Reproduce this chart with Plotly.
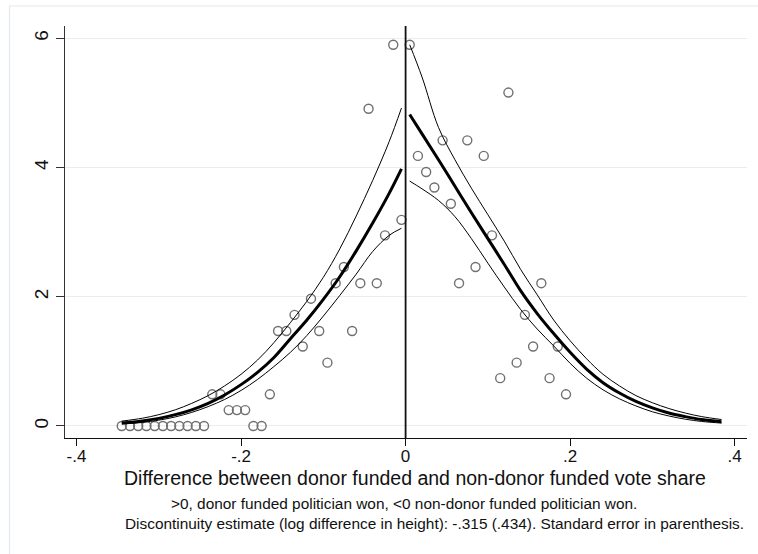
import plotly.graph_objects as go

# ---- binned density (scatter points) ----
bin_x = [-0.345, -0.335, -0.325, -0.315, -0.305, -0.295, -0.285, -0.275, -0.265, -0.255, -0.245,
         -0.235, -0.225, -0.215, -0.205, -0.195, -0.185, -0.175, -0.165, -0.155, -0.145,
         -0.135, -0.125, -0.115, -0.105, -0.095, -0.085, -0.075, -0.065, -0.055, -0.045,
         -0.035, -0.025, -0.015, -0.005,
         0.005, 0.015, 0.025, 0.035, 0.045, 0.055, 0.065, 0.075, 0.085, 0.095,
         0.105, 0.115, 0.125, 0.135, 0.145, 0.155, 0.165, 0.175, 0.185, 0.195]
bin_y = [0, 0, 0, 0, 0, 0, 0, 0, 0, 0, 0,
         0.49, 0.49, 0.246, 0.246, 0.246, 0, 0, 0.49, 1.47, 1.47,
         1.72, 1.23, 1.97, 1.47, 0.98, 2.21, 2.46, 1.47, 2.21, 4.91,
         2.21, 2.95, 5.90, 3.19,
         5.90, 4.18, 3.93, 3.69, 4.42, 3.44, 2.21, 4.42, 2.46, 4.18,
         2.95, 0.74, 5.16, 0.98, 1.72, 1.23, 2.21, 0.74, 1.23, 0.49]

# ---- fitted density, left of cutoff ----
left_x = [-0.345, -0.32, -0.30, -0.28, -0.26, -0.24, -0.22, -0.20, -0.18, -0.16,
          -0.14, -0.12, -0.10, -0.08, -0.06, -0.04, -0.02, -0.005]
left_fit = [0.045, 0.078, 0.118, 0.175, 0.25, 0.35, 0.48, 0.64, 0.83, 1.06,
            1.35, 1.64, 1.96, 2.31, 2.71, 3.14, 3.60, 3.98]
left_hi = [0.075, 0.12, 0.175, 0.25, 0.35, 0.47, 0.62, 0.80, 1.02, 1.29,
           1.60, 1.93, 2.30, 2.74, 3.25, 3.80, 4.40, 4.92]
left_lo = [0.03, 0.055, 0.09, 0.14, 0.21, 0.30, 0.41, 0.55, 0.72, 0.92,
           1.14, 1.40, 1.70, 2.02, 2.35, 2.70, 2.95, 3.06]

# ---- fitted density, right of cutoff ----
right_x = [0.005, 0.02, 0.04, 0.06, 0.08, 0.10, 0.12, 0.14, 0.16, 0.18,
           0.20, 0.22, 0.24, 0.26, 0.28, 0.30, 0.32, 0.34, 0.36, 0.384]
right_fit = [4.82, 4.52, 4.12, 3.71, 3.30, 2.90, 2.50, 2.09, 1.74, 1.43,
             1.14, 0.88, 0.67, 0.51, 0.38, 0.28, 0.20, 0.145, 0.10, 0.067]
right_hi = [5.90, 5.40, 4.62, 4.12, 3.68, 3.27, 2.86, 2.42, 2.03, 1.64,
            1.32, 1.04, 0.80, 0.62, 0.47, 0.36, 0.27, 0.20, 0.145, 0.10]
right_lo = [3.79, 3.67, 3.49, 3.24, 2.90, 2.52, 2.15, 1.80, 1.50, 1.24,
            0.97, 0.74, 0.56, 0.42, 0.31, 0.22, 0.155, 0.105, 0.07, 0.045]

xtick_vals = [-0.4, -0.2, 0, 0.2, 0.4]
xtick_text = ["-.4", "-.2", "0", ".2", ".4"]
ytick_vals = [0, 2, 4, 6]
ytick_text = ["0", "2", "4", "6"]

x_title = "Difference between donor funded and non-donor funded vote share"
note1 = ">0, donor funded politician won, <0 non-donor funded politician won."
note2 = "Discontinuity estimate (log difference in height): -.315 (.434). Standard error in parenthesis."

FONT = "Liberation Sans, Arial, sans-serif"
W, H = 758, 554
L, R, T, B = 65, 747, 26, 438


def px(xp):
    return (xp - L) / (R - L)


def py(yp):
    return (B - yp) / (B - T)


fig = go.Figure()

fig.add_trace(go.Scatter(x=bin_x, y=bin_y, mode="markers",
                         marker=dict(symbol="circle-open", size=9, color="#707070",
                                     line=dict(width=1.4, color="#707070")),
                         hoverinfo="skip", showlegend=False))

for xs, ys, w in [(left_x, left_hi, 1), (left_x, left_lo, 1), (left_x, left_fit, 3),
                  (right_x, right_hi, 1), (right_x, right_lo, 1), (right_x, right_fit, 3)]:
    fig.add_trace(go.Scatter(x=xs, y=ys, mode="lines",
                             line=dict(color="black", width=w, shape="spline", smoothing=1.0),
                             hoverinfo="skip", showlegend=False))

shapes = [
    # vertical line at the cutoff
    dict(type="line", xref="x", yref="paper", x0=0, x1=0, y0=0, y1=1,
         line=dict(color="#111111", width=1.8)),
    # outer graph frame
    dict(type="rect", xref="paper", yref="paper", x0=px(9.5), x1=px(800), y0=py(6), y1=py(600),
         line=dict(color="#e2eaee", width=1.2), layer="below"),
]

annotations = [
    dict(text=x_title, xref="paper", yref="paper", x=px(415), y=py(478), showarrow=False,
         xanchor="center", yanchor="middle", font=dict(family=FONT, size=19.5, color="#111111")),
    dict(text=note1, xref="paper", yref="paper", x=px(404), y=py(503), showarrow=False,
         xanchor="center", yanchor="middle", font=dict(family=FONT, size=15.4, color="#111111")),
    dict(text=note2, xref="paper", yref="paper", x=px(434), y=py(523), showarrow=False,
         xanchor="center", yanchor="middle", font=dict(family=FONT, size=15.4, color="#111111")),
]

fig.update_layout(
    width=W, height=H,
    margin=dict(l=L, r=W - R, t=T, b=H - B),
    paper_bgcolor="white", plot_bgcolor="white",
    shapes=shapes, annotations=annotations,
    xaxis=dict(range=[-0.414, 0.415], tickvals=xtick_vals, ticktext=xtick_text,
               showgrid=False, zeroline=False, showline=True, linecolor="#111111", linewidth=1.3,
               ticks="outside", ticklen=7, tickwidth=1.2, tickcolor="#111111",
               ticklabelstandoff=-5,
               tickfont=dict(family=FONT, size=17, color="#111111")),
    yaxis=dict(range=[-0.186, 6.19], tickvals=ytick_vals, ticktext=ytick_text,
               showgrid=True, gridcolor="#e6eef2", gridwidth=1.3, zeroline=False,
               showline=True, linecolor="#333333", linewidth=1.3,
               ticks="outside", ticklen=8, tickwidth=1.2, tickcolor="#333333", tickangle=-90,
               tickfont=dict(family=FONT, size=19, color="#111111")),
)

fig.write_html("out.html")
